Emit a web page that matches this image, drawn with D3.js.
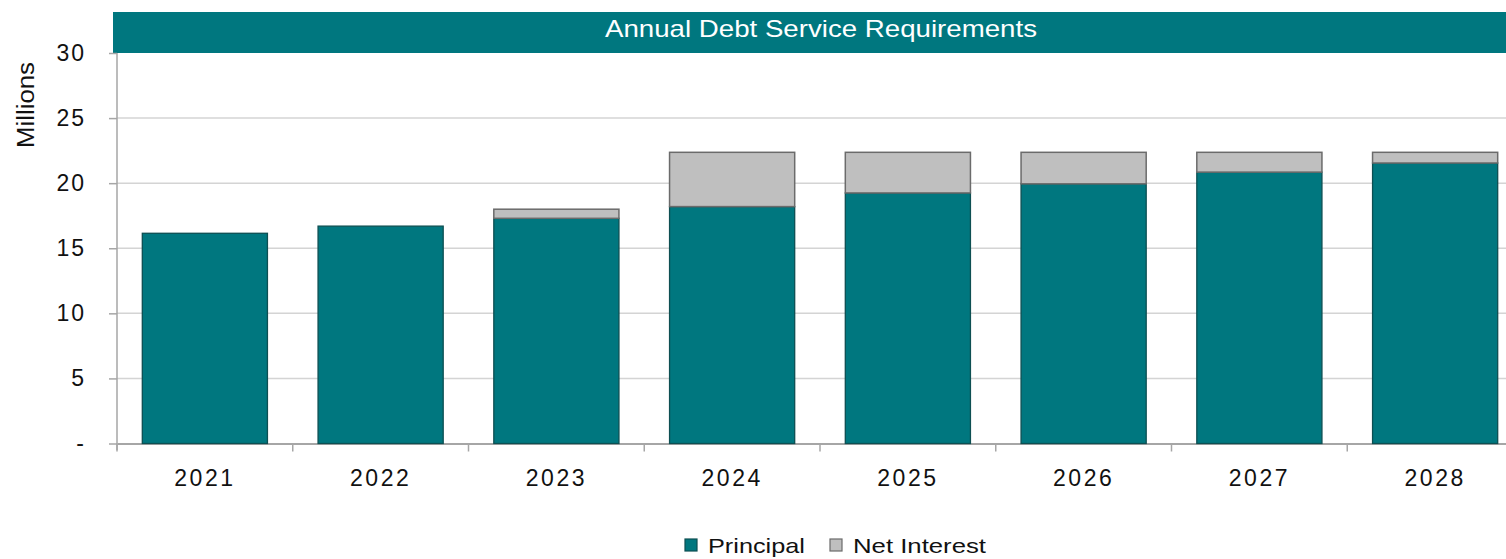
<!DOCTYPE html>
<html>
<head>
<meta charset="utf-8">
<script src="https://cdn.jsdelivr.net/npm/d3@7"></script>
<style>
  body { margin: 0; background: #fff; }
  svg { display: block; font-family: "Liberation Sans", Arial, sans-serif; }
</style>
</head>
<body>
<div id="chart"></div>
<script>
var years = ["2021", "2022", "2023", "2024", "2025", "2026", "2027", "2028"];
var principal = [16.15, 16.7, 17.3, 18.2, 19.25, 19.95, 20.85, 21.55];
var netInterest = [0, 0, 0.7, 4.17, 3.12, 2.42, 1.52, 0.82];
var yTicks = [0, 5, 10, 15, 20, 25, 30];
var seriesNames = ["Principal", "Net Interest"];

var svgWidth = 1506;
var svgHeight = 559;
var teal = "#00777f";
var grey = "#bfbfbf";

var svg = d3.select("#chart")
  .append("svg")
  .attr("width", svgWidth)
  .attr("height", svgHeight);

// scales (the band axis runs past the right edge, like the cropped original)
var x = d3.scaleBand()
  .domain(years)
  .range([117, 1523])
  .paddingInner(0.288)
  .paddingOuter(0.144);

var y = d3.scaleLinear()
  .domain([0, 30])
  .range([443.5, 53]);

// title bar
svg.append("rect")
  .attr("x", 113).attr("y", 12)
  .attr("width", svgWidth - 113).attr("height", 41)
  .attr("fill", teal);

svg.append("text")
  .attr("x", 821).attr("y", 37)
  .attr("text-anchor", "middle")
  .attr("fill", "#fff")
  .style("font-size", "24px")
  .attr("textLength", 432)
  .attr("lengthAdjust", "spacingAndGlyphs")
  .text("Annual Debt Service Requirements");

// gridlines
svg.append("g")
  .selectAll("line")
  .data(yTicks.filter(d => d > 0 && d < 30))
  .enter().append("line")
  .attr("x1", 117).attr("x2", svgWidth)
  .attr("y1", d => y(d)).attr("y2", d => y(d))
  .attr("stroke", "#d4d4d4")
  .attr("stroke-width", 1.5);

// y axis
var yAxis = svg.append("g")
  .attr("transform", "translate(117,0)")
  .call(d3.axisLeft(y).tickValues(yTicks).tickSize(8).tickPadding(23)
    .tickFormat(d => d === 0 ? "-" : d));
yAxis.select(".domain").attr("stroke", "#a6a6a6").attr("stroke-width", 1.5)
  .attr("d", "M0,53V450");
yAxis.selectAll(".tick line").attr("stroke", "#a6a6a6").attr("stroke-width", 1.5);
yAxis.selectAll(".tick text")
  .attr("fill", "#111")
  .style("font-size", "23px")
  .style("font-family", "Liberation Sans, Arial, sans-serif")
  .style("letter-spacing", "2px");

// x axis
var xAxis = svg.append("g")
  .attr("transform", "translate(0," + y(0) + ")")
  .call(d3.axisBottom(x).tickSize(0).tickPadding(26));
xAxis.select(".domain").attr("stroke", "#a6a6a6").attr("stroke-width", 2);
xAxis.selectAll(".tick text")
  .attr("fill", "#111")
  .style("font-size", "23px")
  .style("font-family", "Liberation Sans, Arial, sans-serif")
  .style("letter-spacing", "2.5px");

// category boundary ticks
var step = x.step();
var bounds = years.map((d, i) => x(d) - (step - x.bandwidth()) / 2);
svg.append("g")
  .selectAll("line")
  .data(bounds)
  .enter().append("line")
  .attr("x1", d => d).attr("x2", d => d)
  .attr("y1", y(0)).attr("y2", y(0) + 8)
  .attr("stroke", "#a6a6a6")
  .attr("stroke-width", 1.5);

// stacked bars
var rows = years.map((d, i) => ({ year: d, principal: principal[i], interest: netInterest[i] }));

svg.append("g")
  .selectAll("rect")
  .data(rows)
  .enter().append("rect")
  .attr("x", d => x(d.year))
  .attr("y", d => y(d.principal))
  .attr("width", x.bandwidth())
  .attr("height", d => y(0) - y(d.principal))
  .attr("fill", teal)
  .attr("stroke", "#0d4f52")
  .attr("stroke-width", 1.3);

svg.append("g")
  .selectAll("rect")
  .data(rows.filter(d => d.interest > 0))
  .enter().append("rect")
  .attr("x", d => x(d.year))
  .attr("y", d => y(d.principal + d.interest))
  .attr("width", x.bandwidth())
  .attr("height", d => y(d.principal) - y(d.principal + d.interest))
  .attr("fill", grey)
  .attr("stroke", "#6b6b6b")
  .attr("stroke-width", 1.5);

// y label
svg.append("text")
  .attr("transform", "translate(34,105) rotate(-90)")
  .attr("text-anchor", "middle")
  .attr("fill", "#111")
  .style("font-size", "23px")
  .attr("textLength", 86)
  .attr("lengthAdjust", "spacingAndGlyphs")
  .text("Millions");

// legend
var legendX = [685, 830];
var legendW = [97, 133];
var legend = svg.append("g");
seriesNames.forEach(function(name, i) {
  legend.append("rect")
    .attr("x", legendX[i]).attr("y", 539)
    .attr("width", 12).attr("height", 12)
    .attr("fill", i === 0 ? teal : grey)
    .attr("stroke", i === 0 ? "#0d4f52" : "#6b6b6b")
    .attr("stroke-width", 1.2);
  legend.append("text")
    .attr("x", legendX[i] + 23).attr("y", 553)
    .attr("fill", "#111")
    .style("font-size", "21px")
    .attr("textLength", legendW[i])
    .attr("lengthAdjust", "spacingAndGlyphs")
    .text(name);
});
</script>
</body>
</html>
